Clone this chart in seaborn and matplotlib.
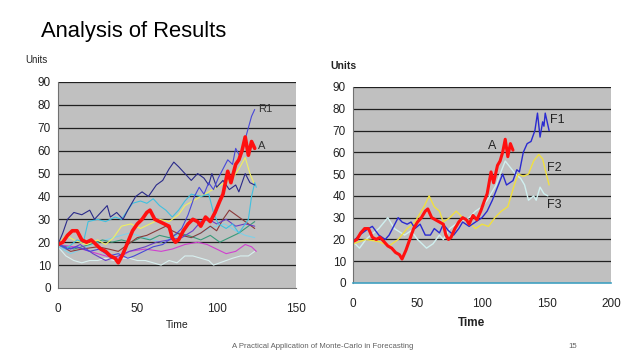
import matplotlib
matplotlib.use("Agg")
import matplotlib.pyplot as plt
import seaborn as sns
import pandas as pd

# ---- Actual (A), shared by both charts ----
A_T = [0, 3, 6, 9, 12, 15, 18, 21, 24, 27, 30, 33, 36, 38, 41, 44, 47, 50, 53, 56, 58, 61, 64, 67, 70, 72,
       74, 76, 79, 82, 85, 88, 90, 93, 96, 99, 102, 104, 107, 109, 112, 114, 116, 118, 120, 122, 124]
A_Y = [19, 20, 23, 25, 25, 21, 20, 21, 19, 17, 16, 14, 13, 11, 15, 20, 25, 28, 30, 33, 34, 30, 29, 28, 27, 22,
       20, 21, 25, 28, 30, 29, 27, 31, 29, 33, 38, 41, 51, 46, 54, 56, 60, 66, 58, 64, 61]

# ---- Left chart: simulated runs ----
R1_T = [0, 6, 12, 20, 26, 32, 38, 44, 48, 54, 60, 66, 72, 78, 82, 86, 89, 92, 95, 98, 101, 104, 107, 110, 112,
        115, 118, 120, 122, 124]
R1_Y = [19, 17, 18, 16, 17, 14, 15, 13, 14, 16, 18, 19, 22, 26, 32, 40, 44, 41, 46, 43, 48, 52, 56, 54, 61,
        57, 65, 70, 75, 78]
NAVY_T = [0, 3, 6, 10, 15, 20, 23, 27, 31, 33, 37, 41, 44, 49, 53, 57, 62, 66, 70, 73, 76, 80, 84, 88, 92, 95,
          97, 100, 104, 108, 112, 114, 118, 121, 124]
NAVY_Y = [19, 24, 30, 33, 32, 34, 30, 33, 36, 31, 33, 30, 34, 40, 42, 40, 45, 47, 52, 55, 53, 50, 47, 50, 48, 45,
          50, 44, 47, 43, 45, 42, 50, 46, 45]
SKY_T = [0, 5, 12, 16, 19, 25, 30, 36, 40, 43, 47, 52, 56, 60, 64, 68, 72, 76, 80, 84, 90, 95, 98, 101, 106,
         110, 114, 117, 120, 122, 124, 125]
SKY_Y = [19, 17, 21, 20, 29, 30, 29, 31, 30, 33, 37, 38, 37, 39, 36, 34, 31, 34, 38, 41, 40, 41, 33, 28, 26,
         28, 24, 27, 30, 40, 46, 44]
LTBLUE_T = [0, 8, 15, 25, 35, 45, 55, 65, 75, 85, 95, 105, 112, 118, 124]
LTBLUE_Y = [18, 15, 17, 20, 22, 24, 22, 20, 23, 22, 26, 28, 25, 23, 22]
PALE_T = [0, 5, 10, 15, 20, 25, 30, 35, 40, 45, 50, 55, 60, 65, 70, 75, 80, 85, 90, 95, 98, 102, 106, 110, 115,
          120, 124]
PALE_Y = [18, 14, 12, 11, 12, 12, 13, 12, 13, 13, 12, 12, 11, 10, 12, 11, 14, 14, 13, 12, 10, 11, 12, 13, 14,
          14, 16]
MAGENTA_T = [0, 10, 20, 30, 38, 45, 55, 65, 72, 80, 88, 94, 100, 106, 112, 118, 122, 125]
MAGENTA_Y = [19, 18, 16, 14, 13, 16, 17, 16, 17, 19, 20, 19, 17, 15, 16, 19, 18, 16]
VIOLET_T = [0, 8, 14, 22, 30, 38, 45, 55, 62, 70, 78, 85, 90, 95, 100, 106, 112, 118, 124]
VIOLET_Y = [19, 17, 19, 15, 12, 14, 16, 18, 20, 21, 22, 25, 29, 30, 28, 30, 27, 28, 27]
BROWN_T = [0, 8, 15, 25, 32, 38, 44, 50, 56, 62, 68, 72, 78, 84, 90, 96, 100, 104, 108, 112, 116, 120, 124]
BROWN_Y = [19, 16, 17, 18, 17, 16, 19, 22, 23, 25, 27, 25, 23, 22, 24, 27, 25, 30, 34, 32, 30, 28, 26]
GREEN_T = [0, 10, 20, 28, 34, 40, 46, 52, 58, 64, 70, 76, 82, 90, 96, 102, 108, 114, 120, 124]
GREEN_Y = [19, 17, 19, 21, 20, 21, 20, 22, 21, 23, 22, 24, 23, 21, 23, 20, 22, 24, 27, 29]
YELLOW_T = [0, 5, 10, 18, 25, 30, 35, 40, 46, 52, 58, 64, 70, 76, 80, 85, 90, 95, 100, 105, 110, 114, 118,
            121, 124]
YELLOW_Y = [19, 23, 21, 19, 21, 19, 22, 27, 28, 26, 28, 30, 29, 32, 36, 38, 40, 42, 44, 46, 48, 52, 57, 50, 45]

# ---- Right chart: forecasts ----
F1_T = [0, 5, 12, 15, 20, 25, 28, 35, 38, 42, 45, 48, 52, 56, 60, 63, 67, 70, 74, 78, 82, 85, 90, 95, 100, 104,
        108, 112, 116, 119, 124, 127, 129, 132, 135, 138, 141, 143, 145, 147, 148, 149, 152]
F1_Y = [19, 22, 25, 26, 22, 20, 22, 30, 28, 27, 28, 25, 27, 22, 22, 25, 23, 27, 24, 22, 25, 28, 26, 28, 30, 33,
        38, 44, 50, 45, 47, 52, 51, 60, 64, 65, 70, 78, 67, 74, 72, 78, 70]
F2_T = [0, 10, 20, 28, 35, 42, 48, 55, 59, 63, 67, 70, 75, 80, 85, 90, 95, 100, 105, 110, 115, 120, 125, 128,
        132, 136, 140, 144, 147, 149, 152]
F2_Y = [18, 20, 19, 17, 20, 25, 28, 35, 40, 35, 33, 28, 30, 33, 30, 28, 25, 27, 26, 30, 33, 35, 45, 50, 49, 50,
        56, 59, 57, 52, 45]
F3_T = [0, 5, 10, 20, 27, 32, 40, 45, 50, 57, 62, 67, 70, 75, 82, 90, 95, 100, 104, 108, 111, 114, 118, 122,
        126, 130, 133, 136, 140, 142, 145, 148, 151]
F3_Y = [19, 16, 20, 25, 30, 25, 22, 24, 20, 16, 18, 22, 20, 25, 28, 30, 33, 35, 38, 42, 45, 50, 56, 53, 50, 48,
        45, 38, 40, 38, 44, 41, 40]

YTICKS = [0, 10, 20, 30, 40, 50, 60, 70, 80, 90]
LEFT_XTICKS = [0, 50, 100, 150]
RIGHT_XTICKS = [0, 50, 100, 150, 200]

sns.set_theme(style="white")
plt.rcParams['font.family'] = ['Liberation Sans', 'DejaVu Sans']

fig = plt.figure(figsize=(6.38, 3.59), dpi=100)
fig.patch.set_facecolor("white")

axL = fig.add_axes([0.0909, 0.1978, 0.373, 0.5738])
axR = fig.add_axes([0.5533, 0.2117, 0.4044, 0.546])

thin = 0.8
left_series = [
    (PALE_T, PALE_Y, "#d8f0f0"),
    (LTBLUE_T, LTBLUE_Y, "#7fd0e8"),
    (MAGENTA_T, MAGENTA_Y, "#d040d0"),
    (GREEN_T, GREEN_Y, "#3a9a7a"),
    (BROWN_T, BROWN_Y, "#8a3a3a"),
    (VIOLET_T, VIOLET_Y, "#6a40c8"),
    (YELLOW_T, YELLOW_Y, "#f0f060"),
    (SKY_T, SKY_Y, "#40c0e0"),
    (NAVY_T, NAVY_Y, "#2a2a8a"),
    (R1_T, R1_Y, "#4848d8"),
]
for t, y, c in left_series:
    sns.lineplot(x=t, y=y, ax=axL, color=c, lw=thin, estimator=None, sort=False)
sns.lineplot(x=A_T, y=A_Y, ax=axL, color="#ff1010", lw=2.6, estimator=None, sort=False)

right_series = [
    (F3_T, F3_Y, "#d0f0f0"),
    (F2_T, F2_Y, "#f0e040"),
    (F1_T, F1_Y, "#2a2ad0"),
]
for t, y, c in right_series:
    sns.lineplot(x=t, y=y, ax=axR, color=c, lw=1.0, estimator=None, sort=False)
sns.lineplot(x=A_T, y=A_Y, ax=axR, color="#ff1010", lw=2.2, estimator=None, sort=False)

for ax, xt, xmax in [(axL, LEFT_XTICKS, 150), (axR, RIGHT_XTICKS, 200)]:
    ax.set_facecolor("#c0c0c0")
    ax.set_xlim(0, xmax)
    ax.set_ylim(0, 90)
    ax.set_yticks(YTICKS)
    ax.set_xticks(xt)
    ax.set_yticklabels([str(v) for v in YTICKS])
    ax.set_xticklabels([str(v) for v in xt])
    for v in YTICKS[1:]:
        ax.axhline(v, color="#202020", lw=0.9, zorder=0.5)
    for s in ["top", "right"]:
        ax.spines[s].set_visible(False)
    ax.spines["left"].set_color("#707070")
    ax.spines["left"].set_linewidth(0.8)
    ax.tick_params(axis="both", which="both", length=3, width=0.6, color="#707070",
                   labelsize=8.5, labelcolor="#222222", pad=2, direction="out")
    ax.tick_params(axis="x", pad=8)
    ax.set_xlabel("")
    ax.set_ylabel("")
    ax.grid(False)

axL.spines["bottom"].set_color("#707070")
axL.spines["bottom"].set_linewidth(0.8)
axR.spines["bottom"].set_color("#40a0c0")
axR.spines["bottom"].set_linewidth(1.2)

# axis titles
fig.text(25 / 638, 1 - 60 / 359, "Units", fontsize=7, ha="left", va="center", color="#222222")
fig.text(177 / 638, 1 - 325 / 359, "Time", fontsize=7.5, ha="center", va="center", color="#222222")
fig.text(330 / 638, 1 - 66 / 359, "Units", fontsize=7.5, fontweight="bold", ha="left", va="center",
         color="#222222")
fig.text(472 / 638, 1 - 323 / 359, "Time", fontsize=8.5, fontweight="bold", ha="center", va="center",
         color="#222222")

# series labels
axL.text(126, 78, "R1", fontsize=8, ha="left", va="center", color="#333333")
axL.text(126, 62, "A", fontsize=8, ha="left", va="center", color="#333333")
axR.text(153, 75, "F1", fontsize=9, ha="left", va="center", color="#222222")
axR.text(150, 53, "F2", fontsize=9, ha="left", va="center", color="#222222")
axR.text(150, 36, "F3", fontsize=9, ha="left", va="center", color="#222222")
axR.text(108, 63, "A", fontsize=9, ha="center", va="center", color="#222222")

fig.text(41 / 638, 1 - 32 / 359, "Analysis of Results", fontsize=15.8, ha="left", va="center", color="black")
fig.text(323 / 638, 1 - 347 / 359, "A Practical Application of Monte-Carlo in Forecasting", fontsize=5.6,
         ha="center", va="center", color="#606060")
fig.text(573 / 638, 1 - 347 / 359, "15", fontsize=5.6, ha="center", va="center", color="#606060")

fig.savefig("out.png", dpi=100)
